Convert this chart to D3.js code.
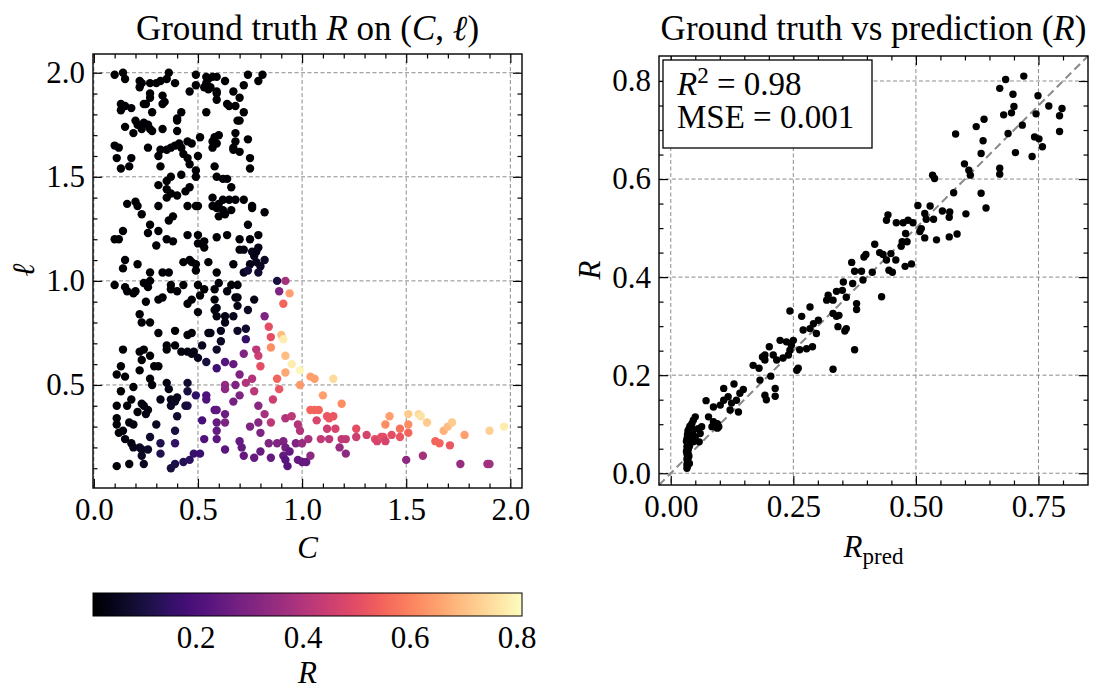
<!DOCTYPE html>
<html>
<head>
<meta charset="utf-8">
<script src="https://cdn.jsdelivr.net/npm/d3@7"></script>
<style>
  body { margin: 0; background: #fff; }
  svg text { font-family: "Liberation Serif", "Times New Roman", serif; fill: #000; }
</style>
</head>
<body>
<svg id="fig" width="1100" height="690"></svg>
<script>
// ---------- data: ground truth R sampled on (C, l) ----------
// each entry: [C, l, R]
const groundTruth = [
  [0.10,1.99,.010],[0.14,2.00,.012],[0.15,1.97,.011],[0.22,1.96,.010],[0.23,1.95,.012],[0.27,1.95,.011],[0.30,1.95,.010],[0.32,1.96,.012],[0.35,1.97,.011],[0.36,2.00,.010],
  [0.39,1.95,.012],[0.22,1.93,.011],[0.49,1.99,.010],[0.46,1.91,.012],[0.49,1.94,.011],[0.54,1.98,.010],[0.55,1.97,.012],[0.57,1.98,.011],[0.59,1.98,.010],[0.54,1.95,.012],
  [0.56,1.93,.011],[0.63,1.96,.010],[0.59,1.91,.012],[0.67,1.91,.011],[0.74,1.99,.010],[0.72,1.94,.012],[0.81,1.99,.011],[0.79,1.96,.010],[0.53,1.93,.012],[0.55,1.92,.011],
  [0.27,1.90,.010],[0.27,1.88,.012],[0.25,1.85,.011],[0.24,1.85,.010],[0.33,1.89,.012],[0.34,1.86,.011],[0.33,1.85,.010],[0.13,1.85,.012],[0.13,1.82,.011],[0.15,1.84,.010],
  [0.18,1.83,.012],[0.28,1.81,.011],[0.40,1.78,.010],[0.42,1.81,.012],[0.54,1.81,.011],[0.59,1.87,.010],[0.64,1.85,.012],[0.65,1.84,.011],[0.70,1.88,.010],[0.68,1.84,.012],
  [0.72,1.81,.011],[0.59,1.90,.010],
  [0.15,1.74,.012],[0.20,1.77,.011],[0.21,1.75,.010],[0.23,1.73,.012],[0.24,1.76,.011],[0.26,1.75,.010],[0.27,1.73,.012],[0.28,1.72,.011],[0.19,1.71,.010],[0.33,1.73,.012],
  [0.40,1.77,.011],[0.40,1.72,.010],[0.69,1.77,.012],[0.70,1.77,.011],[0.68,1.71,.010],[0.60,1.70,.012],[0.58,1.69,.011],[0.51,1.69,.010],[0.45,1.67,.012],[0.57,1.67,.011],
  [0.10,1.65,.010],[0.12,1.64,.012],[0.26,1.64,.011],[0.32,1.63,.010],[0.35,1.63,.012],[0.37,1.64,.011],[0.39,1.65,.010],[0.41,1.66,.012],[0.42,1.64,.011],[0.43,1.61,.010],
  [0.45,1.59,.012],[0.46,1.56,.011],[0.49,1.53,.010],[0.50,1.60,.012],[0.68,1.67,.011],[0.67,1.64,.010],[0.67,1.63,.012],[0.70,1.62,.011],[0.74,1.68,.010],[0.75,1.59,.012],
  [0.75,1.54,.011],[0.11,1.59,.010],[0.18,1.59,.012],[0.13,1.54,.011],[0.17,1.55,.010],[0.31,1.60,.012],[0.32,1.55,.011],[0.59,1.66,.010],[0.57,1.64,.012],[0.58,1.55,.011],
  [0.47,1.66,.010],
  [0.49,1.50,.012],[0.37,1.50,.011],[0.35,1.48,.010],[0.42,1.51,.012],[0.59,1.50,.011],[0.62,1.49,.010],[0.64,1.49,.012],[0.66,1.45,.011],[0.31,1.46,.010],[0.46,1.45,.012],
  [0.44,1.43,.011],[0.40,1.41,.010],[0.35,1.40,.012],[0.37,1.42,.011],[0.35,1.44,.010],[0.57,1.40,.012],[0.62,1.39,.011],[0.65,1.39,.010],[0.68,1.39,.012],[0.72,1.39,.011],
  [0.16,1.37,.010],[0.20,1.38,.012],[0.21,1.36,.011],[0.23,1.32,.010],[0.31,1.36,.012],[0.45,1.36,.011],[0.49,1.36,.010],[0.50,1.36,.012],[0.57,1.36,.011],[0.59,1.35,.010],
  [0.60,1.37,.012],[0.62,1.34,.011],[0.66,1.34,.010],[0.76,1.36,.012],[0.76,1.35,.011],[0.82,1.33,.020],[0.38,1.31,.010],[0.36,1.29,.012],[0.27,1.27,.011],[0.31,1.24,.010],
  [0.74,1.27,.020],[0.60,1.31,.011],[0.63,1.32,.010],
  [0.10,1.20,.012],[0.12,1.20,.011],[0.14,1.24,.010],[0.26,1.23,.012],[0.35,1.20,.011],[0.38,1.19,.010],[0.30,1.17,.012],[0.45,1.22,.011],[0.50,1.22,.010],[0.59,1.21,.012],
  [0.64,1.22,.011],[0.70,1.20,.020],[0.75,1.20,.020],[0.79,1.22,.020],[0.79,1.16,.040],[0.70,1.15,.020],[0.72,1.15,.030],[0.50,1.18,.011],[0.53,1.19,.010],[0.53,1.16,.012],
  [0.15,1.10,.011],[0.14,1.06,.010],[0.21,1.08,.012],[0.27,1.04,.011],[0.33,1.04,.010],[0.36,1.04,.012],[0.43,1.09,.011],[0.46,1.10,.010],[0.47,1.09,.012],[0.49,1.08,.011],
  [0.49,1.05,.010],[0.55,1.09,.012],[0.59,1.04,.011],[0.67,1.08,.020],[0.72,1.04,.050],[0.75,1.08,.040],[0.77,1.12,.040],[0.78,1.09,.050],[0.80,1.07,.060],[0.82,1.10,.060],
  [0.78,1.14,.040],[0.76,1.14,.040],[0.74,1.05,.090],[0.79,1.04,.080],
  [0.10,0.98,.010],[0.15,0.97,.012],[0.16,0.95,.011],[0.19,0.94,.010],[0.20,0.95,.012],[0.24,0.99,.011],[0.26,0.97,.010],[0.25,0.90,.012],[0.27,1.00,.011],[0.31,0.91,.010],
  [0.33,0.92,.012],[0.37,0.96,.011],[0.37,0.98,.010],[0.40,0.95,.012],[0.43,0.98,.011],[0.45,0.89,.010],[0.47,0.91,.012],[0.50,0.98,.011],[0.53,0.96,.010],[0.51,0.93,.012],
  [0.58,0.96,.020],[0.60,0.99,.020],[0.58,0.91,.020],[0.64,0.95,.030],
  [0.22,0.84,.011],[0.23,0.80,.010],[0.27,0.80,.012],[0.31,0.75,.011],[0.39,0.76,.012],[0.45,0.74,.020],[0.47,0.75,.020],[0.50,0.85,.020],[0.58,0.86,.030],[0.59,0.87,.030],
  [0.59,0.83,.030],[0.63,0.83,.040],[0.63,0.80,.040],[0.61,0.76,.050],[0.55,0.75,.040],[0.56,0.75,.040],
  [0.14,0.67,.010],[0.13,0.59,.012],[0.22,0.66,.011],[0.23,0.62,.010],[0.24,0.67,.012],[0.27,0.64,.011],[0.29,0.59,.020],[0.31,0.59,.020],[0.35,0.69,.020],[0.35,0.67,.020],
  [0.39,0.69,.020],[0.42,0.66,.030],[0.45,0.66,.030],[0.47,0.65,.040],[0.48,0.66,.040],[0.50,0.63,.050],[0.52,0.69,.050],[0.54,0.61,.100],[0.59,0.67,.070],[0.61,0.71,.060],
  [0.59,0.58,.180],[0.63,0.61,.220],
  [0.11,0.55,.010],[0.15,0.54,.012],[0.19,0.49,.011],[0.13,0.47,.010],[0.18,0.43,.020],[0.22,0.57,.011],[0.23,0.41,.020],[0.26,0.38,.030],[0.27,0.53,.020],[0.28,0.50,.020],
  [0.32,0.43,.040],[0.35,0.51,.030],[0.36,0.48,.040],[0.37,0.43,.050],[0.39,0.42,.060],[0.40,0.44,.050],[0.45,0.51,.080],[0.45,0.47,.100],[0.49,0.45,.150],[0.45,0.40,.120],
  [0.54,0.45,.200],[0.54,0.43,.210],[0.63,0.50,.340],[0.63,0.48,.330],
  [0.11,0.40,.010],[0.16,0.40,.020],[0.24,0.40,.030],[0.21,0.37,.020],[0.11,0.34,.020],[0.11,0.31,.020],[0.14,0.28,.030],[0.17,0.32,.030],[0.19,0.31,.030],[0.25,0.36,.040],
  [0.30,0.31,.060],[0.37,0.40,.060],[0.40,0.35,.080],[0.39,0.28,.100],[0.44,0.40,.090],[0.58,0.38,.230],[0.59,0.38,.240],[0.63,0.36,.260],[0.52,0.33,.190],[0.59,0.32,.250],
  [0.59,0.28,.250],[0.63,0.32,.300],
  [0.12,0.27,.020],[0.15,0.24,.030],[0.18,0.22,.030],[0.19,0.20,.050],[0.22,0.20,.060],[0.23,0.19,.060],[0.23,0.16,.060],[0.26,0.19,.070],[0.27,0.25,.080],[0.32,0.22,.120],
  [0.32,0.17,.120],[0.37,0.10,.100],[0.39,0.12,.110],[0.39,0.22,.150],[0.43,0.13,.130],[0.46,0.14,.140],[0.48,0.17,.160],[0.51,0.17,.170],[0.53,0.24,.210],[0.59,0.24,.230],
  [0.63,0.19,.230],[0.11,0.11,.020],[0.17,0.12,.030],[0.24,0.12,.060],
  [0.66,0.98,.020],[0.69,0.98,.020],[0.68,0.92,.020],[0.69,0.92,.030],[0.77,0.91,.040],[0.69,0.88,.040],[0.74,0.86,.060],[0.67,0.83,.050],[0.69,0.76,.070],[0.73,0.77,.080],
  [0.73,0.72,.150],[0.88,1.00,.100],[0.92,1.00,.380],[0.89,0.95,.300],[0.94,0.94,.650],[0.91,0.89,.550],[0.82,0.83,.300],[0.84,0.78,.500],[0.85,0.73,.500],[0.85,0.68,.620],
  [0.90,0.74,.700],[0.91,0.72,.780],[0.92,0.64,.700],[0.95,0.60,.780],[0.99,0.57,.800],[0.92,0.56,.660],[0.99,0.50,.640],[0.88,0.53,.550],[0.89,0.48,.520],[0.86,0.43,.450],
  [0.80,0.59,.500],[0.79,0.64,.450],[0.78,0.67,.420],[0.72,0.65,.300],[0.67,0.60,.250],[0.70,0.55,.300],[0.76,0.53,.400],[0.73,0.51,.400],[0.68,0.50,.300],[0.77,0.47,.420],
  [0.70,0.45,.300],[0.67,0.42,.280],[0.79,0.40,.320],[0.82,0.36,.380],[0.85,0.32,.420],[0.79,0.32,.320],[0.75,0.30,.300],[0.80,0.27,.300],[0.92,0.34,.400],[0.95,0.35,.420],
  [0.98,0.31,.400],[0.99,0.28,.400],[0.70,0.23,.250],[0.71,0.20,.250],[0.72,0.16,.250],[0.77,0.15,.250],[0.80,0.18,.250],[0.85,0.15,.250],[0.84,0.22,.300],[0.88,0.22,.300],
  [0.91,0.23,.300],[0.92,0.20,.280],[0.94,0.18,.250],[0.91,0.16,.250],[0.92,0.14,.220],[0.93,0.11,.220],[0.97,0.22,.300],[1.00,0.22,.350],[1.03,0.24,.380],[0.98,0.14,.250],
  [1.00,0.13,.250],[1.02,0.13,.250],[1.04,0.16,.330],[1.04,0.54,.650],[1.06,0.53,.650],[1.15,0.53,.750],[1.10,0.45,.650],[1.19,0.41,.620],[1.04,0.38,.550],[1.06,0.38,.550],
  [1.08,0.38,.550],[1.07,0.33,.480],[1.12,0.35,.520],[1.13,0.34,.520],[1.15,0.35,.520],[1.12,0.29,.450],[1.16,0.29,.470],[1.09,0.24,.430],[1.13,0.24,.420],[1.19,0.24,.430],
  [1.21,0.24,.430],[1.18,0.20,.350],[1.21,0.17,.330],[1.26,0.29,.500],[1.26,0.25,.450],[1.31,0.26,.470],[1.35,0.24,.500],[1.36,0.23,.470],[1.38,0.25,.500],[1.39,0.25,.500],
  [1.40,0.23,.470],[1.43,0.26,.500],[1.47,0.29,.570],[1.47,0.25,.520],[1.51,0.27,.550],[1.40,0.31,.620],[1.42,0.35,.650],[1.51,0.31,.620],[1.51,0.36,.720],[1.56,0.36,.750],
  [1.57,0.35,.760],[1.60,0.32,.720],[1.68,0.28,.680],[1.70,0.30,.700],[1.72,0.32,.720],[1.78,0.26,.650],[1.64,0.23,.550],[1.66,0.22,.550],[1.71,0.21,.520],[1.90,0.28,.730],
  [1.97,0.30,.780],[1.50,0.14,.330],[1.58,0.16,.380],[1.76,0.12,.350],[1.89,0.12,.370],[1.90,0.12,.370]
];
const gtC = groundTruth.map(d => d[0]);
const gtL = groundTruth.map(d => d[1]);
const gtR = groundTruth.map(d => d[2]);

// ---------- data: predicted vs ground truth R ----------
const predR = [
  0.683,0.720,0.671,0.698,0.749,0.700,0.695,0.679,0.771,0.798,0.793,0.745,0.717,0.688,0.793,0.742,0.751,0.758,0.703,0.737,
  0.639,0.623,0.581,0.637,0.633,0.599,0.608,0.611,0.671,0.671,0.633,0.643,0.534,0.538,0.577,0.602,0.504,0.529,0.518,0.521,
  0.536,0.554,0.569,0.568,0.568,0.584,0.542,0.518,0.508,0.511,0.494,0.484,0.474,0.460,0.443,0.440,0.479,0.472,0.482,0.470,
  0.416,0.426,0.433,0.449,0.440,0.459,0.398,0.394,0.369,0.411,0.452,0.445,0.478,0.491,0.375,0.389,0.392,0.371,0.352,0.350,
  0.338,0.321,0.318,0.331,0.358,0.379,0.430,0.284,0.243,
  0.331,0.338,0.379,0.267,0.301,0.291,0.284,0.270,0.297,0.341,0.358,0.355,0.343,0.375,0.331,0.223,0.236,0.250,0.246,0.243,
  0.240,0.263,0.277,0.289,0.260,0.257,0.201,0.192,0.192,0.187,0.209,0.216,0.229,0.168,0.180,0.182,0.204,0.192,0.195,0.213,
  0.213,0.129,0.108,0.148,0.141,0.134,0.117,0.124,0.121,0.138,0.108,0.101,0.087,0.072,0.077,0.087,0.095,0.098,0.095,0.084,
  0.063,0.056,0.060,0.050,0.046,0.043,0.039,0.043,0.050,0.058,0.046,
  0.033,0.034,0.033,0.035,0.034,0.033,0.036,0.034,0.033,0.035,0.034,0.036,0.033,0.035,0.034,0.036,0.033,0.035,0.034,0.036,
  0.035,0.037,0.038,0.037,0.038,0.039,0.032,0.032,0.040,0.041,0.042,0.044,0.046
];
const trueR = [
  0.803,0.810,0.785,0.773,0.770,0.748,0.735,0.731,0.749,0.744,0.729,0.733,0.710,0.693,0.697,0.686,0.682,0.666,0.654,0.646,
  0.722,0.707,0.692,0.678,0.652,0.631,0.618,0.608,0.622,0.610,0.571,0.541,0.608,0.601,0.572,0.529,0.546,0.545,0.530,0.518,
  0.518,0.535,0.533,0.522,0.482,0.488,0.476,0.480,0.493,0.499,0.511,0.516,0.511,0.511,0.527,0.516,0.489,0.472,0.472,0.463,
  0.467,0.450,0.446,0.448,0.435,0.435,0.446,0.441,0.430,0.410,0.410,0.414,0.422,0.427,0.412,0.412,0.394,0.387,0.390,0.373,
  0.371,0.363,0.353,0.353,0.359,0.346,0.360,0.339,0.331,
  0.326,0.320,0.334,0.320,0.312,0.305,0.295,0.292,0.285,0.299,0.295,0.290,0.322,0.252,0.212,0.271,0.268,0.271,0.261,0.251,
  0.241,0.252,0.254,0.258,0.214,0.210,0.258,0.241,0.231,0.237,0.241,0.231,0.235,0.220,0.214,0.190,0.198,0.159,0.150,0.173,
  0.157,0.182,0.173,0.171,0.163,0.149,0.156,0.143,0.129,0.125,0.149,0.139,0.135,0.148,0.115,0.105,0.101,0.095,0.092,0.095,
  0.095,0.091,0.081,0.115,0.108,0.101,0.096,0.081,0.074,0.064,0.064,
  0.010,0.014,0.018,0.021,0.025,0.029,0.032,0.036,0.040,0.043,0.047,0.050,0.054,0.058,0.062,0.066,0.070,0.074,0.078,0.082,
  0.086,0.090,0.020,0.035,0.055,0.070,0.045,0.065,0.085,0.075,0.092,0.080,0.088
];

// ---------- tick labels and limits ----------
const cTicks = [0, 0.5, 1.0, 1.5, 2.0];
const cMinor = [0.1,0.2,0.3,0.4,0.6,0.7,0.8,0.9,1.1,1.2,1.3,1.4,1.6,1.7,1.8,1.9];
const lTicks = [0.5, 1.0, 1.5, 2.0];
const lMinor = [0.1,0.2,0.3,0.4,0.6,0.7,0.8,0.9,1.1,1.2,1.3,1.4,1.6,1.7,1.8,1.9];
const predTicks = [0, 0.25, 0.5, 0.75];
const predMinor = [0.05,0.1,0.15,0.2,0.3,0.35,0.4,0.45,0.55,0.6,0.65,0.7,0.8];
const truthTicks = [0, 0.2, 0.4, 0.6, 0.8];
const truthMinor = [0.05,0.1,0.15,0.25,0.3,0.35,0.45,0.5,0.55,0.65,0.7,0.75];
const cbarTicks = [0.2, 0.4, 0.6, 0.8];
const rLimits = [0.008, 0.81];
const metricR2 = "0.98";
const metricMSE = "0.001";

// ---------- layout ----------
const SERIF = "'Liberation Serif', 'Times New Roman', serif";
const svg = d3.select("#fig");
const FS = 31;
const left = { x0: 93, x1: 522, y0: 54, y1: 488 };
const right = { x0: 659, x1: 1088, y0: 56, y1: 485 };

const xC = d3.scaleLinear().domain([-0.004, 2.056]).range([left.x0, left.x1]);
const yL = d3.scaleLinear().domain([0.005, 2.09]).range([left.y1, left.y0]);
const xP = d3.scaleLinear().domain([-0.024, 0.851]).range([right.x0, right.x1]);
const yT = d3.scaleLinear().domain([-0.024, 0.851]).range([right.y1, right.y0]);
const colorOf = d3.scaleSequential(d3.interpolateMagma).domain(rLimits);

function grid(g, box, xs, ys, xt, yt) {
  g.append("g").selectAll("line").data(xt).join("line")
    .attr("x1", d => xs(d)).attr("x2", d => xs(d))
    .attr("y1", box.y0).attr("y2", box.y1)
    .attr("stroke", "#8c8c8c").attr("stroke-width", 1).attr("stroke-dasharray", "4,2.5");
  g.append("g").selectAll("line").data(yt).join("line")
    .attr("y1", d => ys(d)).attr("y2", d => ys(d))
    .attr("x1", box.x0).attr("x2", box.x1)
    .attr("stroke", "#8c8c8c").attr("stroke-width", 1).attr("stroke-dasharray", "4,2.5");
}

// tick labels in the serif face, matching the rest of the figure
function styleAxis(sel) {
  sel.attr("font-family", SERIF).attr("font-size", FS);
  sel.select(".domain").remove();
  sel.selectAll("line").attr("stroke", "#000").attr("stroke-width", 1.2);
  sel.selectAll("text").attr("font-family", SERIF).attr("font-size", FS)
    .style("font-family", SERIF).style("font-size", FS + "px");
}

function axes(g, box, xs, ys, xt, xm, yt, ym, xfmt, yfmt) {
  g.append("g").attr("transform", `translate(0,${box.y1})`)
    .call(d3.axisBottom(xs).tickValues(xt).tickSize(-9).tickPadding(10).tickFormat(xfmt)).call(styleAxis);
  g.append("g").attr("transform", `translate(0,${box.y1})`)
    .call(d3.axisBottom(xs).tickValues(xm).tickSize(-4.5).tickFormat("")).call(styleAxis);
  g.append("g").attr("transform", `translate(0,${box.y0})`)
    .call(d3.axisTop(xs).tickValues(xt).tickSize(-9).tickFormat("")).call(styleAxis);
  g.append("g").attr("transform", `translate(0,${box.y0})`)
    .call(d3.axisTop(xs).tickValues(xm).tickSize(-4.5).tickFormat("")).call(styleAxis);
  g.append("g").attr("transform", `translate(${box.x0},0)`)
    .call(d3.axisLeft(ys).tickValues(yt).tickSize(-9).tickPadding(8).tickFormat(yfmt)).call(styleAxis);
  g.append("g").attr("transform", `translate(${box.x0},0)`)
    .call(d3.axisLeft(ys).tickValues(ym).tickSize(-4.5).tickFormat("")).call(styleAxis);
  g.append("g").attr("transform", `translate(${box.x1},0)`)
    .call(d3.axisRight(ys).tickValues(yt).tickSize(-9).tickFormat("")).call(styleAxis);
  g.append("g").attr("transform", `translate(${box.x1},0)`)
    .call(d3.axisRight(ys).tickValues(ym).tickSize(-4.5).tickFormat("")).call(styleAxis);
  g.append("rect").attr("x", box.x0).attr("y", box.y0)
    .attr("width", box.x1 - box.x0).attr("height", box.y1 - box.y0)
    .attr("fill", "none").attr("stroke", "#000").attr("stroke-width", 1.4);
}

function label(parent, x, y, size) {
  return parent.append("text").attr("x", x).attr("y", y)
    .attr("font-family", SERIF).style("font-family", SERIF).style("font-size", size + "px");
}

// ---------- left panel: R over (C, l) ----------
const gL = svg.append("g");
grid(gL, left, xC, yL, cTicks, lTicks);
gL.append("g").selectAll("circle").data(d3.range(gtC.length)).join("circle")
  .attr("cx", i => xC(gtC[i])).attr("cy", i => yL(gtL[i])).attr("r", 4.2)
  .attr("fill", i => colorOf(gtR[i]));
axes(gL, left, xC, yL, cTicks, cMinor, lTicks, lMinor, d3.format(".1f"), d3.format(".1f"));

const tL = label(gL, (left.x0 + left.x1) / 2, 40, 35).attr("text-anchor", "middle");
tL.append("tspan").text("Ground truth ");
tL.append("tspan").attr("font-style", "italic").text("R");
tL.append("tspan").text(" on (");
tL.append("tspan").attr("font-style", "italic").text("C");
tL.append("tspan").text(", ");
tL.append("tspan").attr("font-style", "italic").text("ℓ");
tL.append("tspan").text(")");

label(gL, (left.x0 + left.x1) / 2, 558, FS).attr("text-anchor", "middle")
  .attr("font-style", "italic").text("C");
label(gL, 0, 0, FS).attr("transform", "translate(34,270) rotate(-90)")
  .attr("text-anchor", "middle").attr("font-style", "italic").text("ℓ");

// ---------- colorbar ----------
const cb = { x0: 93, x1: 522, y0: 593, y1: 616 };
const xCb = d3.scaleLinear().domain(rLimits).range([cb.x0, cb.x1]);
const grad = svg.append("defs").append("linearGradient").attr("id", "magmaGrad");
grad.selectAll("stop").data(d3.range(0, 1.0001, 0.02)).join("stop")
  .attr("offset", d => d).attr("stop-color", d => d3.interpolateMagma(d));
svg.append("rect").attr("x", cb.x0).attr("y", cb.y0).attr("width", cb.x1 - cb.x0).attr("height", cb.y1 - cb.y0)
  .attr("fill", "url(#magmaGrad)").attr("stroke", "#000").attr("stroke-width", 1);
svg.append("g").attr("transform", `translate(0,${cb.y1})`)
  .call(d3.axisBottom(xCb).tickValues(cbarTicks).tickSize(0).tickPadding(10).tickFormat(d3.format(".1f")))
  .call(styleAxis);
label(svg, (cb.x0 + cb.x1) / 2, 683, FS).attr("text-anchor", "middle")
  .attr("font-style", "italic").text("R");

// ---------- right panel: prediction vs truth ----------
const gR = svg.append("g");
grid(gR, right, xP, yT, predTicks, truthTicks);
gR.append("line")
  .attr("x1", xP(-0.024)).attr("y1", yT(-0.024)).attr("x2", xP(0.851)).attr("y2", yT(0.851))
  .attr("stroke", "#888").attr("stroke-width", 2).attr("stroke-dasharray", "8,4.5");
gR.append("g").selectAll("circle").data(d3.range(predR.length)).join("circle")
  .attr("cx", i => xP(predR[i])).attr("cy", i => yT(trueR[i])).attr("r", 3.7).attr("fill", "#000");
axes(gR, right, xP, yT, predTicks, predMinor, truthTicks, truthMinor, d3.format(".2f"), d3.format(".1f"));

// metrics box
gR.append("rect").attr("x", 663).attr("y", 60).attr("width", 209).attr("height", 88)
  .attr("fill", "#fff").attr("stroke", "#000").attr("stroke-width", 1.3);
const m1 = label(gR, 677, 95, 33);
m1.append("tspan").attr("font-style", "italic").text("R");
m1.append("tspan").attr("dy", -12).style("font-size", "23px").text("2");
m1.append("tspan").attr("dy", 12).text(" = " + metricR2);
label(gR, 677, 128, 33).text("MSE = " + metricMSE);

const tR = label(gR, (right.x0 + right.x1) / 2, 40, 35).attr("text-anchor", "middle");
tR.append("tspan").text("Ground truth vs prediction (");
tR.append("tspan").attr("font-style", "italic").text("R");
tR.append("tspan").text(")");

const xl = label(gR, (right.x0 + right.x1) / 2, 557, FS).attr("text-anchor", "middle");
xl.append("tspan").attr("font-style", "italic").text("R");
xl.append("tspan").attr("dy", 7).style("font-size", "23px").text("pred");
label(gR, 0, 0, FS).attr("transform", "translate(600,270) rotate(-90)")
  .attr("text-anchor", "middle").attr("font-style", "italic").text("R");
</script>
</body>
</html>
